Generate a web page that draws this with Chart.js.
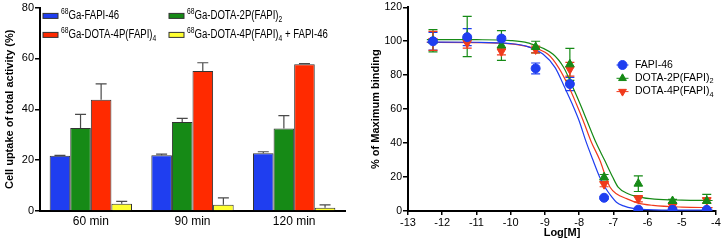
<!DOCTYPE html>
<html>
<head>
<meta charset="utf-8">
<script src="https://cdn.jsdelivr.net/npm/chart.js@4.4.0/dist/chart.umd.min.js"></script>
<style>
  html, body { margin: 0; padding: 0; background: #fff; }
  #wrap { position: relative; width: 722px; height: 245px; }
  .panel { position: absolute; top: 0; width: 361px; height: 245px; }
</style>
</head>
<body>
<div id="wrap">
  <div class="panel" style="left:0"><canvas id="uptakeChart" width="361" height="245"></canvas></div>
  <div class="panel" style="left:361px"><canvas id="bindingChart" width="361" height="245"></canvas></div>
</div>
<script>
// ---- left panel: cell uptake (% of total activity) ----
var timepoints = ['60 min', '90 min', '120 min'];
var uptakeNames = ['^68Ga-FAPI-46', '^68Ga-DOTA-2P(FAPI)_2', '^68Ga-DOTA-4P(FAPI)_4', '^68Ga-DOTA-4P(FAPI)_4 + FAPI-46'];
var fapi46Uptake = [21.7, 21.9, 22.7];
var fapi46UptakeSd = [0.2, 0.5, 0.6];
var dota2pUptake = [32.6, 35.0, 32.4];
var dota2pUptakeSd = [5.4, 1.4, 5.1];
var dota4pUptake = [43.8, 55.1, 57.7];
var dota4pUptakeSd = [6.2, 3.2, 0.3];
var blockedUptake = [2.9, 2.5, 1.3];
var blockedUptakeSd = [0.9, 2.7, 1.1];

// ---- right panel: competitive binding ----
var bindingNames = ['FAPI-46', 'DOTA-2P(FAPI)_2', 'DOTA-4P(FAPI)_4'];
var logConc = [-12.27, -11.27, -10.27, -9.27, -8.27, -7.27, -6.27, -5.27, -4.27];
var fapi46Binding = [100.0, 102.4, 101.6, 84.0, 74.8, 7.8, 0.8, 0.7, 0.7];
var fapi46BindingSd = [5.2, 5.0, 1.2, 3.2, 3.9, 0.6, 0.4, 0.4, 0.4];
var dota2pBinding = [100.3, 102.8, 97.5, 96.6, 86.4, 19.9, 16.1, 5.9, 5.9];
var dota2pBindingSd = [6.6, 11.9, 8.8, 3.4, 9.4, 1.6, 4.6, 1.0, 3.9];
var dota4pBinding = [100.2, 99.0, 94.0, 95.2, 83.5, 15.8, 7.2, 3.0, 6.3];
var dota4pBindingSd = [5.6, 3.0, 2.0, 2.0, 4.0, 1.5, 1.8, 1.0, 1.5];

// fitted curves
var fapi46FitX = [-12.45, -11, -10, -9.5, -9.05, -8.7, -8.42, -8.2, -8.0, -7.8, -7.59, -7.4, -7.25, -7.05, -6.91, -6.7, -6.42, -6.0, -5.0, -4.1];
var fapi46FitY = [99.5, 99.4, 98.6, 96.8, 92.3, 84.5, 72.7, 63, 53.2, 41, 29.7, 20, 14.1, 8.5, 5.2, 3.0, 1.5, 0.8, 0.5, 0.5];
var dota4pFitX = [-12.45, -11, -10, -9.5, -8.91, -8.6, -8.29, -8.08, -7.88, -7.65, -7.39, -7.22, -7.10, -6.9, -6.61, -6.3, -5.84, -5.0, -4.1];
var dota4pFitY = [99.3, 99.2, 98.5, 96.8, 92.3, 84.5, 72.7, 63, 53.2, 41, 29.7, 20, 14.1, 10, 7.3, 4.8, 3.3, 2.3, 2.0];
var dota2pFitX = [-12.45, -11, -10, -9.5, -8.76, -8.45, -8.18, -7.97, -7.77, -7.5, -7.25, -7.02, -6.86, -6.6, -6.23, -5.8, -5.0, -4.1];
var dota2pFitY = [101, 100.9, 100.4, 99, 92.3, 84.5, 72.7, 63, 53.2, 40, 29.7, 20, 14.1, 10.5, 8.2, 7.0, 6.4, 6.2];

var BLUE = '#1f3ef0', GREEN = '#168a16', RED = '#ff2a00', YELLOW = '#ffff30';
var RED2 = '#f03a1c';
var FONT = "'Liberation Sans', Arial, Helvetica, sans-serif";

Chart.defaults.font.family = FONT;
Chart.defaults.color = '#000';

function xy(xs, ys) {
  return xs.map(function(x, i) { return {x: x, y: ys[i]}; });
}

// text with ^sup and _sub digits
function drawRichText(ctx, label, x, y, size, sx) {
  var parts = label.split(/([\^_]\d+)/);
  ctx.save();
  ctx.translate(x, y);
  ctx.scale(sx, 1);
  ctx.textBaseline = 'middle';
  ctx.textAlign = 'left';
  ctx.fillStyle = '#000';
  var pos = 0;
  parts.forEach(function(p) {
    if (!p) return;
    var mark = p[0];
    var small = mark === '^' || mark === '_';
    var txt = small ? p.slice(1) : p;
    var fs = small ? size * 0.7 : size;
    var dy = mark === '^' ? -size * 0.35 : (mark === '_' ? size * 0.3 : 0);
    ctx.font = fs + 'px ' + FONT;
    ctx.fillText(txt, pos, dy);
    pos += ctx.measureText(txt).width;
  });
  ctx.restore();
}

var barErrorPlugin = {
  id: 'barErrors',
  afterDatasetsDraw: function(chart) {
    var ctx = chart.ctx, yScale = chart.scales.y;
    chart.data.datasets.forEach(function(ds, i) {
      chart.getDatasetMeta(i).data.forEach(function(bar, j) {
        var top = yScale.getPixelForValue(ds.data[j] + ds.errors[j]);
        ctx.save();
        ctx.strokeStyle = '#4a4a4a';
        ctx.lineWidth = 1.2;
        ctx.beginPath();
        ctx.moveTo(bar.x, bar.y);
        ctx.lineTo(bar.x, top);
        ctx.moveTo(bar.x - 5.5, top);
        ctx.lineTo(bar.x + 5.5, top);
        ctx.stroke();
        ctx.restore();
      });
    });
  }
};

var barLegendPlugin = {
  id: 'barLegend',
  afterDraw: function(chart) {
    var ctx = chart.ctx, area = chart.chartArea;
    chart.data.datasets.forEach(function(ds, i) {
      var col = i % 2, row = Math.floor(i / 2);
      var bx = area.left + 3 + col * 126;
      var by = area.top + 8.3 + row * 19;
      ctx.save();
      ctx.fillStyle = ds.backgroundColor;
      ctx.strokeStyle = '#333';
      ctx.lineWidth = 1;
      ctx.fillRect(bx, by - 2.5, 15, 5);
      ctx.strokeRect(bx, by - 2.5, 15, 5);
      ctx.restore();
      drawRichText(ctx, ds.label, bx + 18, by, 12, 0.8);
    });
  }
};

var pointErrorPlugin = {
  id: 'pointErrors',
  beforeDatasetsDraw: function(chart) {
    var ctx = chart.ctx, yScale = chart.scales.y;
    chart.data.datasets.forEach(function(ds, i) {
      if (!ds.errors) return;
      chart.getDatasetMeta(i).data.forEach(function(pt, j) {
        var v = ds.data[j].y, e = ds.errors[j];
        var hi = yScale.getPixelForValue(v + e), lo = yScale.getPixelForValue(Math.max(v - e, 0));
        ctx.save();
        ctx.strokeStyle = ds.borderColor;
        ctx.lineWidth = 1.2;
        ctx.beginPath();
        ctx.moveTo(pt.x, hi); ctx.lineTo(pt.x, lo);
        ctx.moveTo(pt.x - 4.5, hi); ctx.lineTo(pt.x + 4.5, hi);
        ctx.moveTo(pt.x - 4.5, lo); ctx.lineTo(pt.x + 4.5, lo);
        ctx.stroke();
        ctx.restore();
      });
    });
  }
};

var bindingLegendPlugin = {
  id: 'bindingLegend',
  afterDraw: function(chart) {
    var ctx = chart.ctx, area = chart.chartArea;
    bindingNames.forEach(function(name, i) {
      var ds = chart.data.datasets[i];
      var cx = area.left + 214.5, cy = area.top + 57.7 + i * 13.3;
      ctx.save();
      ctx.strokeStyle = ds.borderColor;
      ctx.fillStyle = ds.backgroundColor;
      ctx.lineWidth = 1;
      ctx.beginPath();
      ctx.moveTo(cx - 6, cy); ctx.lineTo(cx + 6, cy);
      ctx.stroke();
      Chart.helpers.drawPoint(ctx, {pointStyle: ds.pointStyle, rotation: ds.pointRotation || 0, radius: 4.5, borderWidth: 1}, cx, cy);
      ctx.restore();
      drawRichText(ctx, name, cx + 12.5, cy, 10.5, 1);
    });
  }
};

new Chart(document.getElementById('uptakeChart'), {
  type: 'bar',
  data: {
    labels: timepoints,
    datasets: [
      {label: uptakeNames[0], data: fapi46Uptake, errors: fapi46UptakeSd, backgroundColor: BLUE},
      {label: uptakeNames[1], data: dota2pUptake, errors: dota2pUptakeSd, backgroundColor: GREEN},
      {label: uptakeNames[2], data: dota4pUptake, errors: dota4pUptakeSd, backgroundColor: RED},
      {label: uptakeNames[3], data: blockedUptake, errors: blockedUptakeSd, backgroundColor: YELLOW}
    ]
  },
  options: {
    responsive: false,
    animation: false,
    layout: {padding: {top: 5, right: 16, left: 0, bottom: 0}},
    plugins: {legend: {display: false}, tooltip: {enabled: false}},
    datasets: {bar: {categoryPercentage: 0.81, barPercentage: 1, borderWidth: 1, borderColor: '#333'}},
    scales: {
      x: {
        grid: {display: false, drawTicks: false},
        border: {color: '#000', width: 2},
        ticks: {font: {size: 12}, padding: 3},
        afterFit: function(s) { s.height = 34; }
      },
      y: {
        min: 0, max: 80,
        ticks: {stepSize: 20, font: {size: 11}, padding: 1},
        grid: {drawOnChartArea: false, tickLength: 5, color: '#000', lineWidth: 1.5},
        border: {color: '#000', width: 2},
        title: {display: true, text: 'Cell uptake of total activity (%)', font: {size: 11, weight: 'bold'}, padding: {top: 3, bottom: 0}},
        afterFit: function(s) { s.width = 40; }
      }
    }
  },
  plugins: [barErrorPlugin, barLegendPlugin]
});

new Chart(document.getElementById('bindingChart'), {
  type: 'scatter',
  data: {
    datasets: [
      {label: bindingNames[0], data: xy(logConc, fapi46Binding), errors: fapi46BindingSd,
       pointStyle: 'circle', pointRadius: 4.5, backgroundColor: BLUE, borderColor: BLUE},
      {label: bindingNames[1], data: xy(logConc, dota2pBinding), errors: dota2pBindingSd,
       pointStyle: 'triangle', pointRadius: 5, backgroundColor: GREEN, borderColor: GREEN},
      {label: bindingNames[2], data: xy(logConc, dota4pBinding), errors: dota4pBindingSd,
       pointStyle: 'triangle', pointRotation: 180, pointRadius: 5, backgroundColor: RED2, borderColor: RED2},
      {data: xy(fapi46FitX, fapi46FitY), showLine: true, pointRadius: 0, borderColor: BLUE, borderWidth: 1.2, cubicInterpolationMode: 'monotone'},
      {data: xy(dota2pFitX, dota2pFitY), showLine: true, pointRadius: 0, borderColor: GREEN, borderWidth: 1.2, cubicInterpolationMode: 'monotone'},
      {data: xy(dota4pFitX, dota4pFitY), showLine: true, pointRadius: 0, borderColor: RED2, borderWidth: 1.2, cubicInterpolationMode: 'monotone'}
    ]
  },
  options: {
    responsive: false,
    animation: false,
    layout: {padding: {top: 6, right: 6, left: 0, bottom: 0}},
    plugins: {legend: {display: false}, tooltip: {enabled: false}},
    scales: {
      x: {
        type: 'linear', min: -13, max: -4,
        ticks: {stepSize: 1, font: {size: 11}, padding: 1},
        grid: {drawOnChartArea: false, tickLength: 4, color: '#000', lineWidth: 1.5},
        border: {color: '#000', width: 2},
        title: {display: true, text: 'Log[M]', font: {size: 11, weight: 'bold'}, padding: {top: 0, bottom: 5}},
        afterFit: function(s) { s.height = 34; }
      },
      y: {
        min: 0, max: 120,
        ticks: {stepSize: 20, font: {size: 10.5}, padding: 1},
        grid: {drawOnChartArea: false, tickLength: 5, color: '#000', lineWidth: 1.5},
        border: {color: '#000', width: 2},
        title: {display: true, text: '% of Maximum binding', font: {size: 11, weight: 'bold'}, padding: {top: 8, bottom: 0}},
        afterFit: function(s) { s.width = 47; }
      }
    }
  },
  plugins: [pointErrorPlugin, bindingLegendPlugin]
});
</script>
</body>
</html>
